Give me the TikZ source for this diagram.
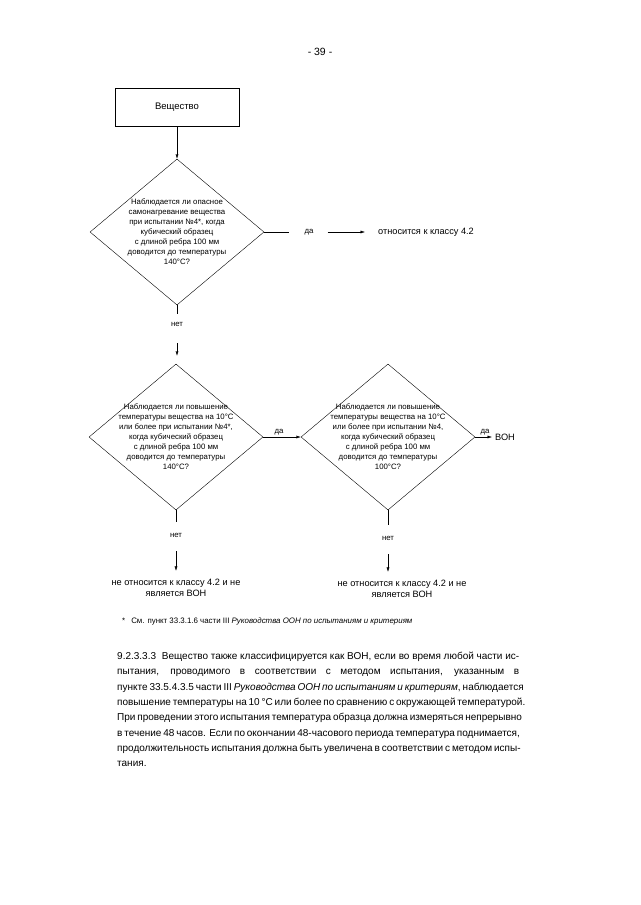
\documentclass[tikz,border=0pt]{standalone}
\usepackage{fontspec}
\setmainfont{Liberation Sans}
\usetikzlibrary{arrows.meta,shapes.geometric,positioning}
\tikzstyle{block}=[rectangle,draw,thin,minimum width=124pt,minimum height=38pt,inner sep=0pt,font=\fontsize{9.5}{11}\selectfont]
\tikzstyle{decision}=[diamond,draw,thin,inner sep=0pt,minimum width=174pt,minimum height=146pt]
\tikzstyle{question}=[align=center,inner sep=0pt,font=\fontsize{7.8}{10}\selectfont]
\tikzstyle{answer}=[inner sep=1pt,font=\fontsize{7.8}{9}\selectfont]
\tikzstyle{result}=[align=center,inner sep=0pt,font=\fontsize{9.2}{11.3}\selectfont]
\tikzstyle{line}=[draw,thin]
\tikzstyle{arrow}=[draw,thin,-{Latex[length=4.5pt,width=3pt]}]
\newcommand{\bodyline}[1]{\makebox[402pt][s]{#1}}

\begin{document}
\begin{tikzpicture}[x=1pt,y=-1pt]
    \useasboundingbox (0,0) rectangle (640,905);
    % Page number
    \node[font=\fontsize{10.5}{12}\selectfont] (pageno) at (320,52) {- 39 -};

    % First we draw the start block and the three decisions
    \node[block] (subst) at (177,107) {Вещество};
    \foreach \pos/\name in {{(177,232)/q1},{(176,437)/q2},{(388,437)/q3}}
        \node[decision] (\name) at \pos {};

    % Then the questions inside the diamonds
    \node[question] (q1txt) at (q1) {Наблюдается ли опасное\\самонагревание вещества\\при испытании №4*, когда\\кубический образец\\с длиной ребра 100 мм\\доводится до температуры\\140°C?};
    \node[question] (q2txt) at (q2) {Наблюдается ли повышение\\температуры вещества на 10°C\\или более при испытании №4*,\\когда кубический образец\\с длиной ребра 100 мм\\доводится до температуры\\140°C?};
    \node[question] (q3txt) at (q3) {Наблюдается ли повышение\\температуры вещества на 10°C\\или более при испытании №4,\\когда кубический образец\\с длиной ребра 100 мм\\доводится до температуры\\100°C?};

    % Answers and outcomes
    \node[answer] (yes1) at (309,232) {да};
    \node[result,anchor=west] (cls) at (378,232) {относится к классу 4.2};
    \node[result,anchor=west] (von) at (495,437) {ВОН};
    \foreach \pos/\name in {{(177,324)/no1},{(176,535)/no2},{(388,538)/no3}}
        \node[answer] (\name) at \pos {нет};
    \node[result] (res1) at (176,588) {не относится к классу 4.2 и не\\является ВОН};
    \node[result] (res2) at (402,589) {не относится к классу 4.2 и не\\является ВОН};

    % Connect everything
    \path[arrow] (subst.south) -- (q1.north);
    \path[line,shorten >=14pt] (q1.east) -- (yes1.west);
    \path[arrow,shorten <=13pt,shorten >=13pt] (yes1.east) -- (cls.west);
    \path[arrow] (q2.east) -- node[answer,above,inner sep=2pt,pos=0.42] (yes2) {да} (q3.west);
    \path[arrow,shorten >=3pt] (q3.east) -- node[answer,above,inner sep=2pt] (yes3) {да} (von.west);
    \foreach \source/\dest/\gap in {q1/no1/7,q2/no2/10,q3/no3/10}
        \path[line,shorten >=\gap pt] (\source.south) -- (\dest.north);
    \foreach \source/\dest/\gap in {no1/q2/16,no2/res1/13,no3/res2/13}
        \path[arrow,shorten <=\gap pt,shorten >=8pt] (\source.south) -- (\source.south |- \dest.north);

    % Footnote and the paragraph below the chart
    \node[anchor=west,inner sep=0pt,font=\fontsize{7.9}{9}\selectfont] (fnote) at (122,621) {*\hspace{6pt}См. пункт 33.3.1.6 части III \textit{Руководства ООН по испытаниям и критериям}};
    \node[anchor=north west,inner sep=0pt,align=left,font=\fontsize{10}{15.3}\selectfont] (para) at (117,652) {%
        \bodyline{9.2.3.3.3\hspace{3pt} Вещество также классифицируется как ВОН, если во время любой части ис-}\\
        \bodyline{пытания, проводимого в соответствии с методом испытания, указанным в}\\
        \bodyline{пункте 33.5.4.3.5 части III \textit{Руководства ООН по испытаниям и критериям}, наблюдается}\\
        \bodyline{повышение температуры на 10 °C или более по сравнению с окружающей температурой.}\\
        \bodyline{При проведении этого испытания температура образца должна измеряться непрерывно}\\
        \bodyline{в течение 48 часов. Если по окончании 48-часового периода температура поднимается,}\\
        \bodyline{продолжительность испытания должна быть увеличена в соответствии с методом испы-}\\
        тания.};
\end{tikzpicture}
\end{document}
